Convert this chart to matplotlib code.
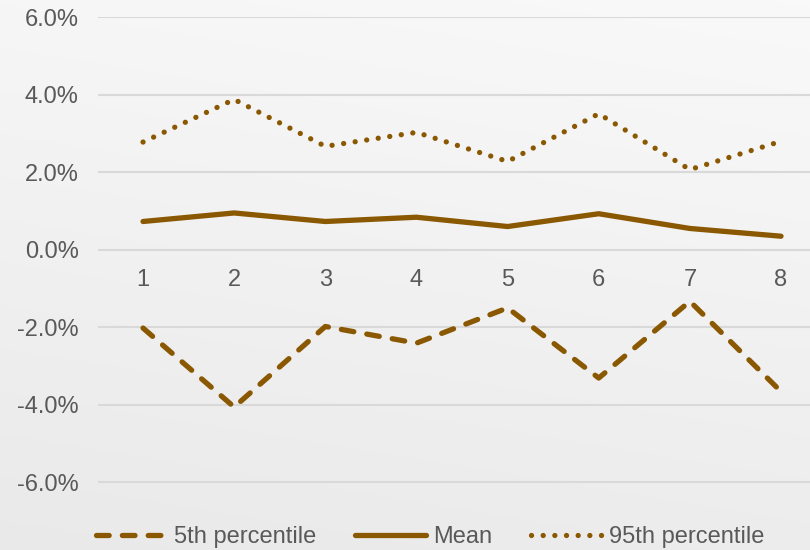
import numpy as np
import matplotlib
matplotlib.use("Agg")
import matplotlib.pyplot as plt
from matplotlib.ticker import FuncFormatter

plt.rcParams['font.family'] = ['Liberation Sans', 'DejaVu Sans']

periods = [1, 2, 3, 4, 5, 6, 7, 8]
p5 = [-2.02, -4.06, -1.98, -2.41, -1.50, -3.31, -1.33, -3.66]
mean = [0.73, 0.95, 0.73, 0.84, 0.60, 0.93, 0.55, 0.35]
p95 = [2.78, 3.88, 2.67, 3.03, 2.28, 3.51, 2.07, 2.80]
yticks = [-6, -4, -2, 0, 2, 4, 6]

color = '#8a5800'
text_color = '#595959'
fs = 17
lw = 3.8

fig = plt.figure(figsize=(8.1, 5.5), dpi=100)

# soft gray gradient background
bg = fig.add_axes([0, 0, 1, 1], zorder=-10)
yy, xx = np.mgrid[0:1:200j, 0:1:300j]
grad = 0.965 - 0.05 * yy + 0.012 * xx
bg.imshow(np.dstack([grad, grad, grad * 1.003]).clip(0, 1), aspect='auto',
          extent=[0, 1, 0, 1], origin='upper')
bg.axis('off')

W, H = 810, 550
top_px, bot_px, left_px = 17.3, 521.0, 98
ax = fig.add_axes([left_px / W, 1 - bot_px / H, 1 - left_px / W, (bot_px - top_px) / H])
ax.patch.set_alpha(0)

ax.plot(periods, p5, color=color, lw=lw, linestyle=(0, (2.4, 2.5)),
        dash_capstyle='round', dash_joinstyle='round', label='5th percentile')
ax.plot(periods, mean, color=color, lw=lw, solid_capstyle='round',
        solid_joinstyle='round', label='Mean')
ax.plot(periods, p95, color=color, lw=lw, linestyle=(0, (0.01, 2.2)),
        dash_capstyle='round', label='95th percentile')

ax.set_ylim(-7.0, 6.0)
ax.set_xlim(0.506, 8.318)
ax.set_yticks(yticks)
ax.yaxis.set_major_formatter(FuncFormatter(lambda v, _: f'{v:.1f}%'))
ax.set_xticks(periods)
ax.set_xticklabels([str(p) for p in periods])

ax.grid(axis='y', color='#d9d9d9', lw=1.5)
ax.set_axisbelow(True)
for s in ['top', 'right', 'left']:
    ax.spines[s].set_visible(False)
ax.spines['bottom'].set_position(('data', 0))
ax.spines['bottom'].set_visible(False)
ax.tick_params(axis='y', length=0, pad=14, labelsize=fs, labelcolor=text_color)
ax.tick_params(axis='x', length=0, pad=14, labelsize=fs, labelcolor=text_color)

fig.legend(loc='center left', bbox_to_anchor=(96 / W, 1 - 537 / H), ncol=3,
           frameon=False, fontsize=fs, labelcolor=text_color, handlelength=3.0,
           handletextpad=0.3, columnspacing=1.65, borderpad=0, borderaxespad=0)

fig.savefig('out.png', dpi=100)
